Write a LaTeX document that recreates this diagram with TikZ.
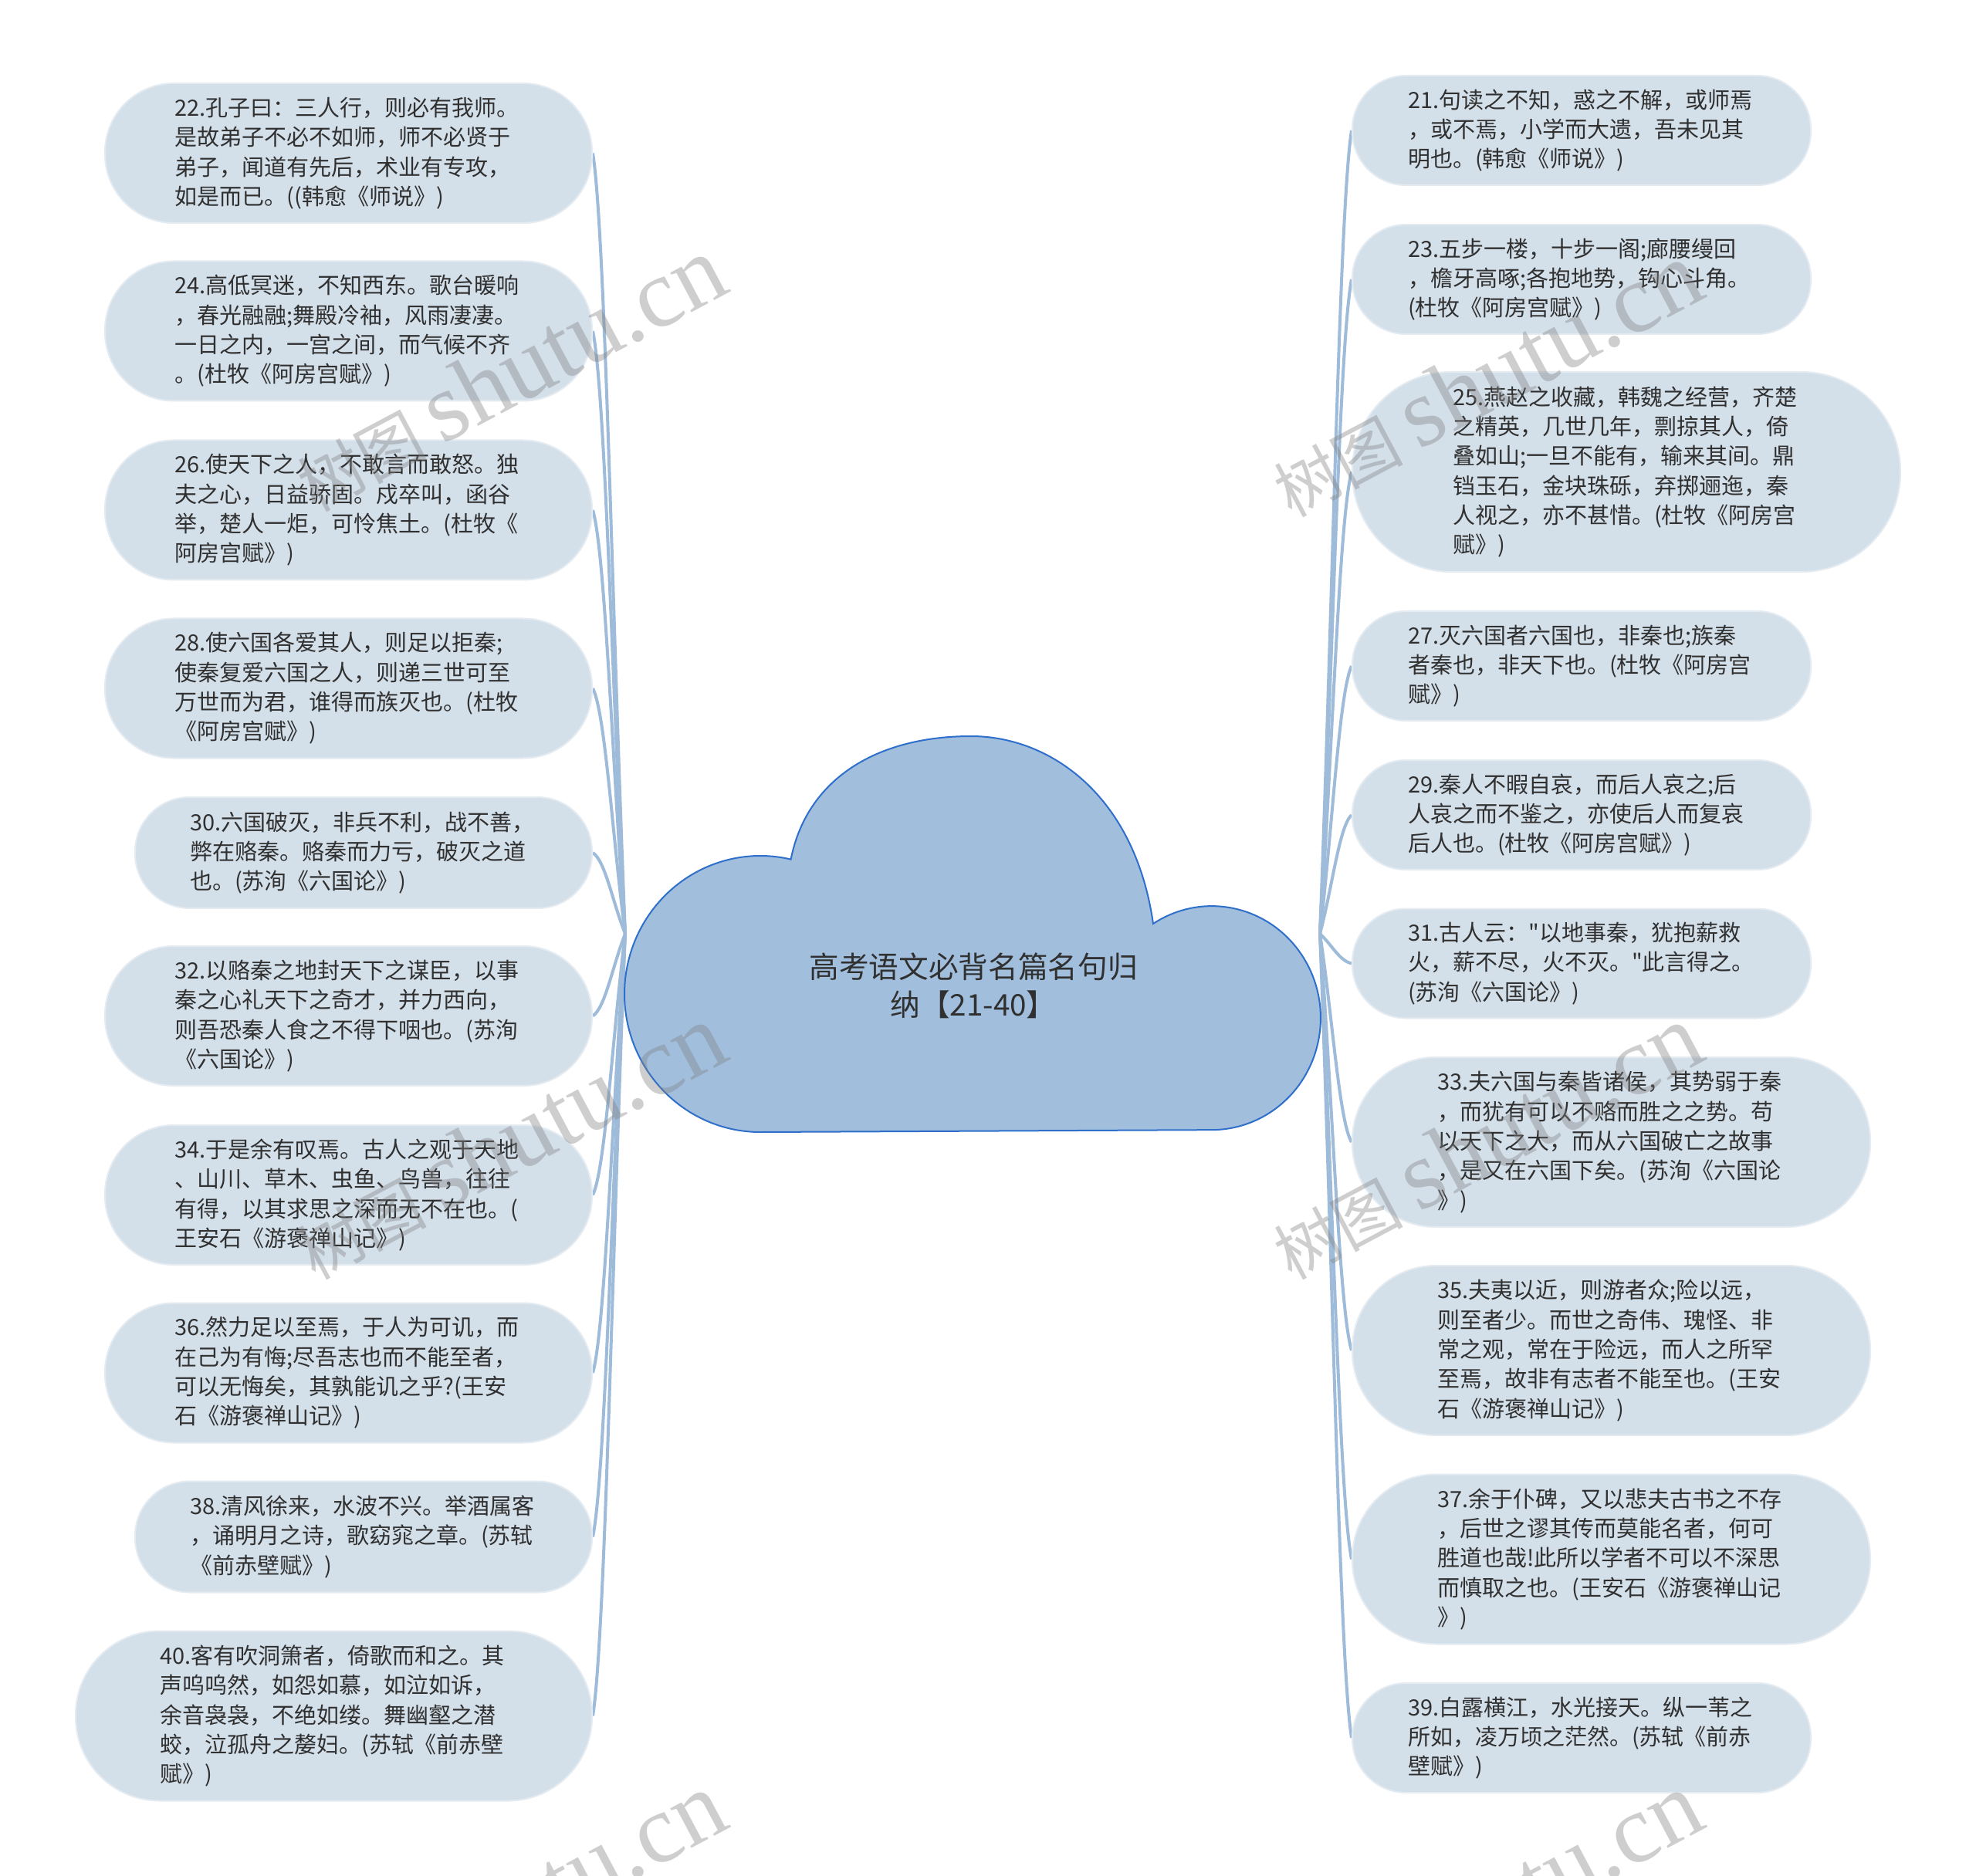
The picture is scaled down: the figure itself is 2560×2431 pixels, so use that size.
\documentclass[tikz,border=0pt]{standalone}
\usepackage{fontspec}
\setmainfont{Noto Sans CJK SC}[Ligatures=TeXOff]
\newfontfamily\wmserif{Liberation Serif}
\usetikzlibrary{calc}
\pgfdeclarelayer{background}
\pgfsetlayers{background,main}
\definecolor{leaffill}{HTML}{D3DFE9}
\definecolor{leafline}{HTML}{E4EBF1}
\definecolor{cloudfill}{HTML}{A1BEDC}
\definecolor{cloudline}{HTML}{2F6FCC}
\definecolor{connc}{HTML}{9FBBDA}
\definecolor{textc}{HTML}{303030}
\newcommand\leaffont{\fontsize{8.7pt}{11.5pt}\selectfont}
\tikzset{
  leaf/.style={draw=leafline, line width=0.6pt, fill=leaffill, text=textc, inner sep=0pt,
    text width=135pt, align=left, font=\leaffont},
  conn/.style={draw=connc, line width=1.2pt},
  titlenode/.style={text=textc, align=center, inner sep=0pt, font=\fontsize{11.6pt}{14.7pt}\selectfont},
  wm/.style={text=gray, text opacity=0.38, rotate=28, inner sep=0pt}
}
\newcommand\mkleaf[6]{\node[leaf, minimum width={#4*0.3pt}, minimum height={#5*0.3pt},
  rounded corners={#5*0.15pt-0.4pt}] (#1) at (#2,#3) {#6};}
\newcommand\connL[1]{\draw[conn] (#1.east) .. controls ($(#1.east)!0.1!(rootL)+(12,0)$) and ($(rootL)!0.4!(#1.east)$) .. (rootL);}
\newcommand\connR[1]{\draw[conn] (#1.west) .. controls ($(#1.west)!0.1!(rootR)+(-12,0)$) and ($(rootR)!0.4!(#1.west)$) .. (rootR);}
\newcommand\wmtext{{\fontsize{25pt}{25pt}\selectfont 树图}\hspace{6pt}{\wmserif\fontsize{38pt}{38pt}\selectfont shutu.cn}}
\begin{document}
\begin{tikzpicture}[x=0.3pt,y=-0.3pt]
\useasboundingbox (0,0) rectangle (2560,2431);
\begin{pgfonlayer}{background}
\fill[white] (0,0) rectangle (2560,2431);
\end{pgfonlayer}

% cloud
\draw[fill=cloudfill, draw=cloudline, line width=0.6pt]
  (985,1467) arc[start angle=90, end angle=283, x radius=176, y radius=179]
  .. controls (1045,1010) and (1135,954) .. (1258,954)
  .. controls (1360,954) and (1470,1030) .. (1494,1197)
  arc[start angle=237.4, end angle=450, x radius=141, y radius=145]
  -- cycle;
\node[titlenode] (root) at (1261,1277) {高考语文必背名篇名句归\\纳【21-40】};
\coordinate (rootL) at (810,1210);
\coordinate (rootR) at (1710,1210);

% left leaves
\mkleaf{n22}{451.5}{198.5}{631}{181}{22.孔子曰：三人行，则必有我师。\\是故弟子不必不如师，师不必贤于\\弟子，闻道有先后，术业有专攻，\\如是而已。((韩愈《师说》)}
\mkleaf{n24}{451.5}{429}{631}{181}{24.高低冥迷，不知西东。歌台暖响\\，春光融融;舞殿冷袖，风雨凄凄。\\一日之内，一宫之间，而气候不齐\\。(杜牧《阿房宫赋》)}
\mkleaf{n26}{451.5}{661}{631}{181}{26.使天下之人，不敢言而敢怒。独\\夫之心，日益骄固。戍卒叫，函谷\\举，楚人一炬，可怜焦土。(杜牧《\\阿房宫赋》)}
\mkleaf{n28}{451.5}{892}{631}{181}{28.使六国各爱其人，则足以拒秦;\\使秦复爱六国之人，则递三世可至\\万世而为君，谁得而族灭也。(杜牧\\《阿房宫赋》)}
\mkleaf{n30}{471}{1105}{592}{144}{30.六国破灭，非兵不利，战不善，\\弊在赂秦。赂秦而力亏，破灭之道\\也。(苏洵《六国论》)}
\mkleaf{n32}{451.5}{1316.5}{631}{181}{32.以赂秦之地封天下之谋臣，以事\\秦之心礼天下之奇才，并力西向，\\则吾恐秦人食之不得下咽也。(苏洵\\《六国论》)}
\mkleaf{n34}{451.5}{1548.5}{631}{181}{34.于是余有叹焉。古人之观于天地\\、山川、草木、虫鱼、鸟兽，往往\\有得，以其求思之深而无不在也。(\\王安石《游褒禅山记》)}
\mkleaf{n36}{451.5}{1779}{631}{181}{36.然力足以至焉，于人为可讥，而\\在己为有悔;尽吾志也而不能至者，\\可以无悔矣，其孰能讥之乎?(王安\\石《游褒禅山记》)}
\mkleaf{n38}{471}{1991.5}{592}{144}{38.清风徐来，水波不兴。举酒属客\\，诵明月之诗，歌窈窕之章。(苏轼\\《前赤壁赋》)}
\mkleaf{n40}{432.5}{2223.5}{669}{220}{40.客有吹洞箫者，倚歌而和之。其\\声呜呜然，如怨如慕，如泣如诉，\\余音袅袅，不绝如缕。舞幽壑之潜\\蛟，泣孤舟之嫠妇。(苏轼《前赤壁\\赋》)}

% right leaves
\mkleaf{n21}{2049}{169}{594}{142}{21.句读之不知，惑之不解，或师焉\\，或不焉，小学而大遗，吾未见其\\明也。(韩愈《师说》)}
\mkleaf{n23}{2049}{362}{594}{142}{23.五步一楼，十步一阁;廊腰缦回\\，檐牙高啄;各抱地势，钩心斗角。\\(杜牧《阿房宫赋》)}
\mkleaf{n25}{2107}{611.5}{710}{259}{25.燕赵之收藏，韩魏之经营，齐楚\\之精英，几世几年，剽掠其人，倚\\叠如山;一旦不能有，输来其间。鼎\\铛玉石，金块珠砾，弃掷逦迤，秦\\人视之，亦不甚惜。(杜牧《阿房宫\\赋》)}
\mkleaf{n27}{2049}{863}{594}{142}{27.灭六国者六国也，非秦也;族秦\\者秦也，非天下也。(杜牧《阿房宫\\赋》)}
\mkleaf{n29}{2049}{1056}{594}{142}{29.秦人不暇自哀，而后人哀之;后\\人哀之而不鉴之，亦使后人而复哀\\后人也。(杜牧《阿房宫赋》)}
\mkleaf{n31}{2049}{1248.5}{594}{142}{31.古人云："以地事秦，犹抱薪救\\火，薪不尽，火不灭。"此言得之。\\(苏洵《六国论》)}
\mkleaf{n33}{2087.5}{1480}{671}{220}{33.夫六国与秦皆诸侯，其势弱于秦\\，而犹有可以不赂而胜之之势。苟\\以天下之大，而从六国破亡之故事\\，是又在六国下矣。(苏洵《六国论\\》)}
\mkleaf{n35}{2087.5}{1750}{671}{220}{35.夫夷以近，则游者众;险以远，\\则至者少。而世之奇伟、瑰怪、非\\常之观，常在于险远，而人之所罕\\至焉，故非有志者不能至也。(王安\\石《游褒禅山记》)}
\mkleaf{n37}{2087.5}{2020.5}{671}{220}{37.余于仆碑，又以悲夫古书之不存\\，后世之谬其传而莫能名者，何可\\胜道也哉!此所以学者不可以不深思\\而慎取之也。(王安石《游褒禅山记\\》)}
\mkleaf{n39}{2049}{2252}{594}{142}{39.白露横江，水光接天。纵一苇之\\所如，凌万顷之茫然。(苏轼《前赤\\壁赋》)}

% connectors
\begin{pgfonlayer}{background}
\connL{n22}\connL{n24}\connL{n26}\connL{n28}\connL{n30}
\connL{n32}\connL{n34}\connL{n36}\connL{n38}\connL{n40}
\connR{n21}\connR{n23}\connR{n25}\connR{n27}\connR{n29}
\connR{n31}\connR{n33}\connR{n35}\connR{n37}\connR{n39}
\end{pgfonlayer}

% watermarks
\node[wm] (wm1) at (660,485) {\wmtext};
\node[wm] (wm2) at (1925,492) {\wmtext};
\node[wm] (wm3) at (660,1480) {\wmtext};
\node[wm] (wm4) at (1925,1480) {\wmtext};
\node[wm] (wm5) at (660,2475) {\wmtext};
\node[wm] (wm6) at (1925,2475) {\wmtext};
\end{tikzpicture}
\end{document}
